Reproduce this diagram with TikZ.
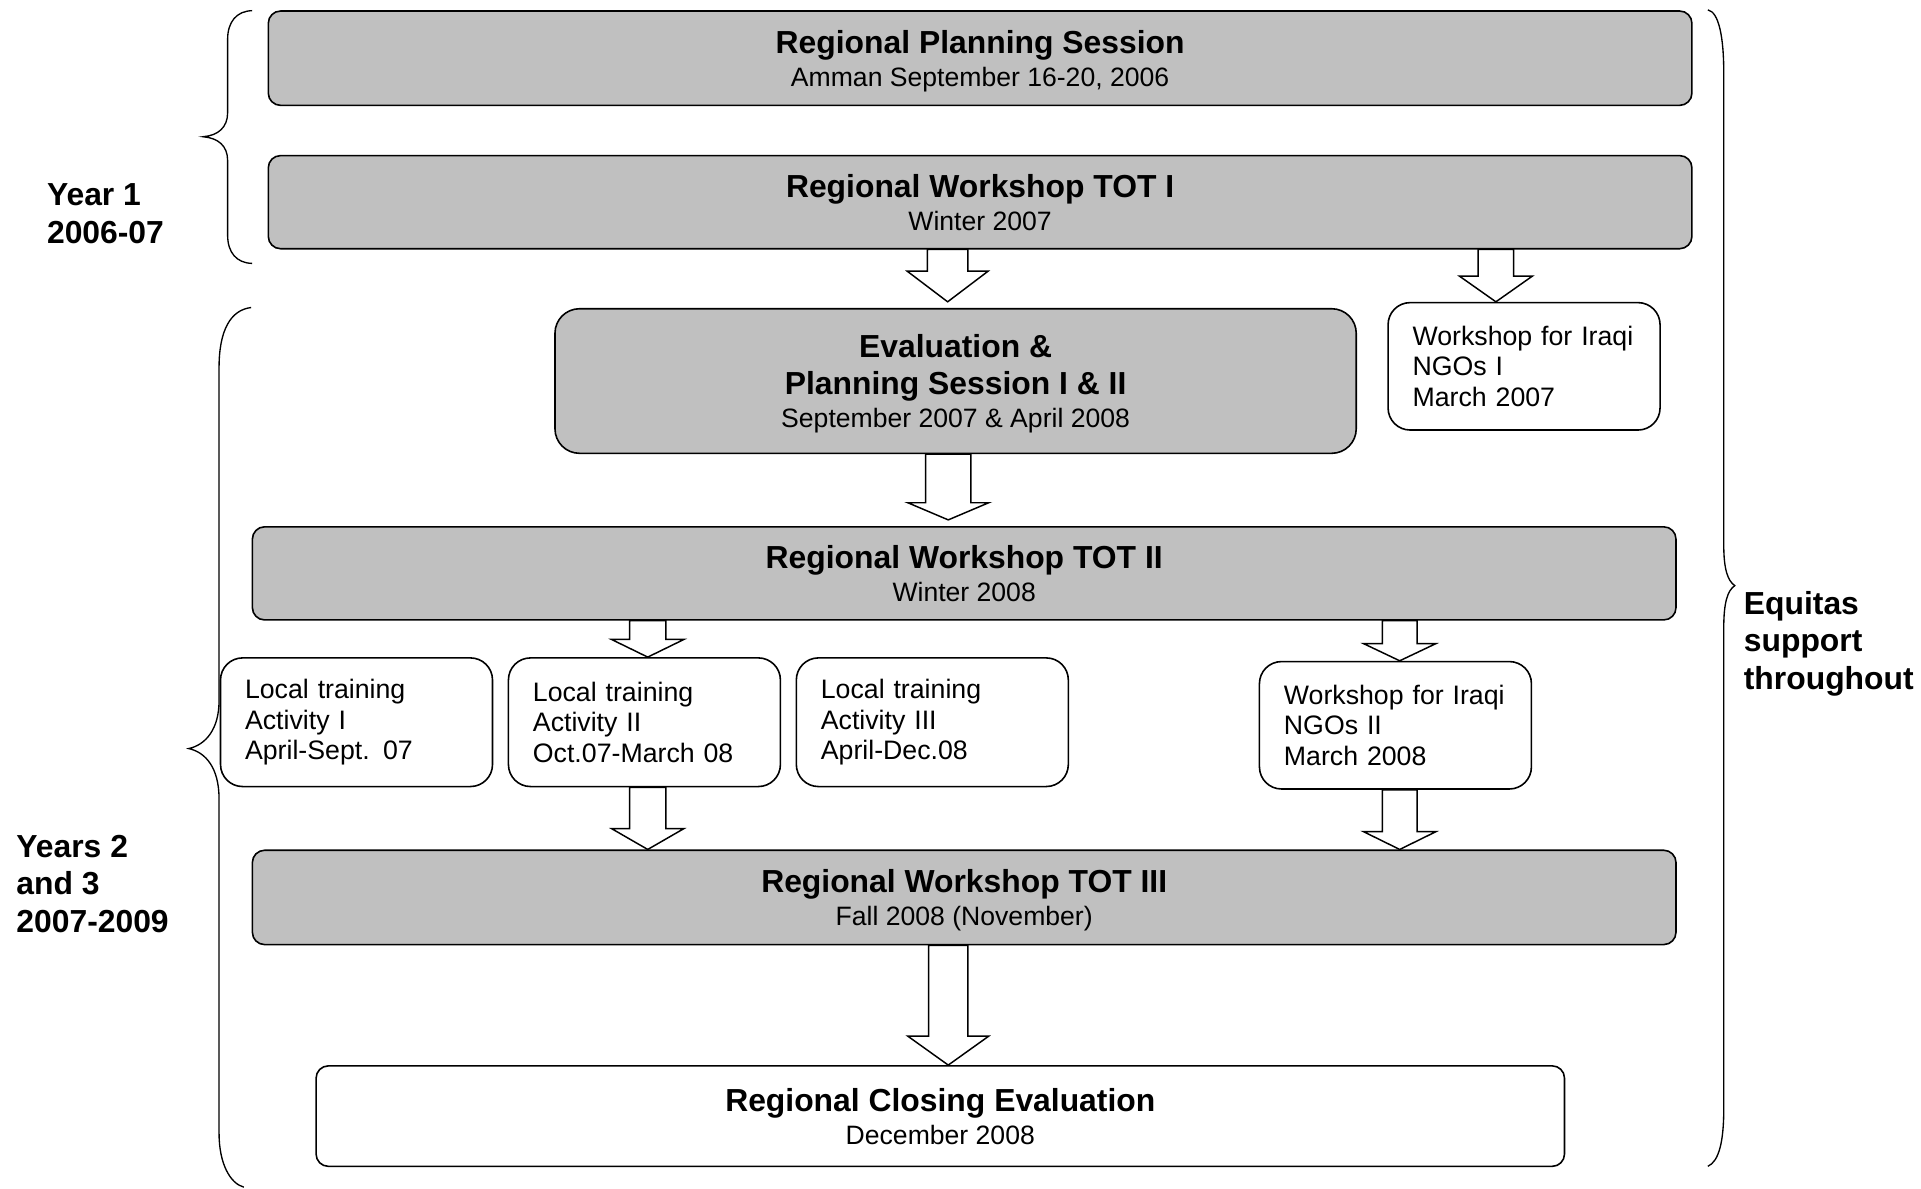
\documentclass[tikz,border=0pt]{standalone}
\usepackage{fontspec}
\setmainfont{Liberation Sans}
\usetikzlibrary{calc}
\definecolor{boxgray}{RGB}{192,192,192}

\newcommand{\subln}{\fontsize{10.85}{13.5}\mdseries\selectfont}

% block arrow: #1 x position, #2 source node, #3 target node,
% #4 shaft half width, #5 head half width, #6 head length, #7 gap above target
\newcommand{\blockarrow}[7]{%
  \draw[blockarr] let \p1=(#1,0 |- #2.south), \p2=(#1,0 |- #3.north) in
    (\x1-#4,\y1) -- (\x1-#4,\y2+#7+#6) -- (\x1-#5,\y2+#7+#6) -- (\x2,\y2+#7)
    -- (\x1+#5,\y2+#7+#6) -- (\x1+#4,\y2+#7+#6) -- (\x1+#4,\y1) -- cycle;}

\tikzset{
  stage/.style={draw=black, line width=0.65pt, fill=boxgray, rounded corners=5pt,
    align=center, inner sep=0pt, text depth=0pt, minimum width=581pt, minimum height=38.5pt,
    font=\fontsize{13}{13.5}\selectfont},
  evalbox/.style={stage, rounded corners=10pt, minimum width=327pt, minimum height=59pt},
  closebox/.style={stage, fill=white, minimum width=509.5pt, minimum height=41pt},
  smallbox/.style={draw=black, line width=0.65pt, fill=white, rounded corners=9pt,
    align=left, inner xsep=10pt, inner ysep=0pt, text width=91pt,
    minimum width=111pt, minimum height=52.5pt,
    font=\fontsize{10.9}{12.5}\selectfont},
  sidelabel/.style={anchor=west, align=left, inner sep=0pt,
    font=\fontsize{13}{15.25}\bfseries\selectfont},
  blockarr/.style={draw=black, fill=white, line width=0.6pt, line join=miter},
  brace/.style={draw=black, line width=0.55pt}
}

\begin{document}
\begin{tikzpicture}[x=0.5pt, y=-0.5pt]
  \useasboundingbox (0,0) rectangle (1568,970);
  \fill[white] (0,0) rectangle (1568,970);

  % stages
  \node[stage] (plan) at (800,47.5)
    {{\bfseries Regional Planning Session}\\{\subln Amman September 16-20, 2006}};
  \node[stage, minimum height=38pt] (tot1) at (800,165)
    {{\bfseries Regional Workshop TOT I}\\{\subln Winter 2007}};
  \node[evalbox] (eval) at (780,311)
    {{\bfseries Evaluation \&}\\[1.5pt]{\bfseries Planning Session I \& II}\\{\subln September 2007 \& April 2008}};
  \node[smallbox, minimum height=52pt] (iraq1) at (1244,299)
    {Workshop for Iraqi\\NGOs I\\March 2007};
  \node[stage, minimum height=38pt] (tot2) at (787,468)
    {{\bfseries Regional Workshop TOT II}\\{\subln Winter 2008}};
  \node[smallbox] (act1) at (291,589.5)
    {Local training\\Activity I\\April-Sept. 07};
  \node[smallbox] (act2) at (526,589.5)
    {Local training\\Activity II\\Oct.07-March 08};
  \node[smallbox] (act3) at (761,589.5)
    {Local training\\Activity III\\April-Dec.08};
  \node[smallbox, minimum height=52pt] (iraq2) at (1139,592)
    {Workshop for Iraqi\\NGOs II\\March 2008};
  \node[stage] (tot3) at (787,732.5)
    {{\bfseries Regional Workshop TOT III}\\{\subln Fall 2008 (November)}};
  \node[closebox] (close) at (767.5,911)
    {{\bfseries Regional Closing Evaluation}\\{\subln December 2008}};

  % block arrows
  \blockarrow{773.5}{tot1}{eval}{8.25pt}{16.5pt}{12.5pt}{2.5pt}
  \blockarrow{1221}{tot1}{iraq1}{7.25pt}{14.9pt}{10.5pt}{0pt}
  \blockarrow{774}{eval}{tot2}{9.25pt}{16.5pt}{7pt}{2.5pt}
  \blockarrow{528.7}{tot2}{act2}{7.4pt}{14.75pt}{7.2pt}{0pt}
  \blockarrow{1142.5}{tot2}{iraq2}{7.1pt}{14.75pt}{7pt}{0pt}
  \blockarrow{528.7}{act2}{tot3}{7.4pt}{14.75pt}{8.5pt}{0pt}
  \blockarrow{1142.5}{iraq2}{tot3}{7.1pt}{14.75pt}{7.25pt}{0pt}
  \blockarrow{774}{tot3}{close}{8pt}{16.5pt}{11.8pt}{0pt}

  % braces
  \draw[brace] (205.8,8.7) .. controls (193,9) and (185.8,18) .. (185.8,32)
    -- (185.8,92) .. controls (185.8,104) and (178,110.6) .. (165.8,111.6)
    .. controls (178,112.6) and (185.8,119) .. (185.8,131)
    -- (185.8,192) .. controls (185.8,206) and (193,214.7) .. (205.8,215);
  \draw[brace] (205,251) .. controls (188,253) and (178.8,270) .. (178.8,300)
    -- (178.8,572) .. controls (178.8,595) and (168,608) .. (154,611)
    .. controls (168,614) and (178.8,627) .. (178.8,652)
    -- (178.8,925) .. controls (178.8,950) and (188,966) .. (199,969);
  \draw[brace] (1394,8) .. controls (1403,10) and (1407,30) .. (1407,60)
    -- (1407,445) .. controls (1407,464) and (1410,474) .. (1416,478)
    .. controls (1410,482) and (1407,492) .. (1407,512)
    -- (1407,905) .. controls (1407,932) and (1403,948) .. (1394,952);

  % period labels
  \node[sidelabel] (year1) at (38,174.5) {Year 1\\2006-07};
  \node[sidelabel] (year23) at (13,721.5) {Years 2\\and 3\\2007-2009};
  \node[sidelabel] (support) at (1423,525.5) {Equitas\\support\\throughout};
\end{tikzpicture}
\end{document}
